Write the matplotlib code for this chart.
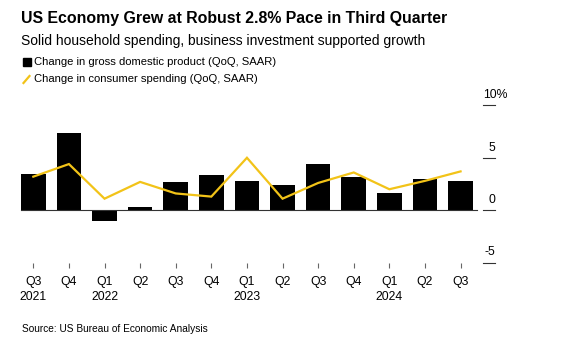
import numpy as np
import matplotlib.pyplot as plt
from matplotlib.lines import Line2D

plt.rcParams['font.family'] = ['Liberation Sans', 'DejaVu Sans']

# Data
quarters = ["Q3\n2021", "Q4", "Q1\n2022", "Q2", "Q3", "Q4", "Q1\n2023",
            "Q2", "Q3", "Q4", "Q1\n2024", "Q2", "Q3"]
gdp = [3.5, 7.4, -1.0, 0.3, 2.7, 3.4, 2.8, 2.4, 4.4, 3.2, 1.6, 3.0, 2.8]
consumer = [3.2, 4.4, 1.1, 2.7, 1.6, 1.3, 5.0, 1.1, 2.6, 3.6, 2.0, 2.8, 3.7]
yticks = [-5, 0, 5, 10]
ytick_labels = ["-5", "0", "5", "10%"]

W, H = 583, 350
YELLOW = "#F2C318"


def fx(p):
    return p / W


def fy(p):
    return 1 - p / H


fig = plt.figure(figsize=(W / 100, H / 100), dpi=100)
ax = fig.add_axes([fx(20), fy(262.7), fx(483 - 20), (262.7 - 105.3) / H])

x = np.arange(len(quarters))
ax.bar(x, gdp, width=0.69, color="black", zorder=2)
ax.plot(x, consumer, color=YELLOW, lw=1.6, zorder=3, solid_joinstyle="miter")
ax.plot([-0.35, 12.45], [0, 0], color="#333333", lw=0.8, zorder=4)

ax.set_xlim(-0.374, 12.63)
ax.set_ylim(-5, 10)
for s in ax.spines.values():
    s.set_visible(False)
ax.set_xticks(x)
ax.set_xticklabels(quarters, fontsize=8.8, linespacing=1.4)
ax.tick_params(axis="x", length=3.5, width=0.8, color="#666666", pad=6)
ax.set_yticks([])

# right-hand value axis: short tick lines with labels above them
for v, lab in zip(yticks, ytick_labels):
    ax.add_line(Line2D([1.0, 1.0 + 12 / 463], [v, v], transform=ax.get_yaxis_transform(),
                       color="#333333", lw=0.8, clip_on=False))
    if lab.endswith("%"):
        fig.text(fx(483), fy(105.3 - 10.5), lab, fontsize=8.8, ha="left", va="center")
    else:
        ypx = 210.7 - v * 10.45
        fig.text(fx(495.5), fy(ypx - 10.5), lab, fontsize=8.8, ha="right", va="center")

fig.text(fx(21), fy(18), "US Economy Grew at Robust 2.8% Pace in Third Quarter",
         fontsize=11.4, fontweight="bold", va="center")
fig.text(fx(21), fy(41.5), "Solid household spending, business investment supported growth",
         fontsize=10, va="center")

# legend
fig.patches.append(plt.Rectangle((fx(22.5), fy(66)), fx(8), 8 / H,
                                 transform=fig.transFigure, color="black"))
fig.text(fx(34.3), fy(62.3), "Change in gross domestic product (QoQ, SAAR)",
         fontsize=8.15, va="center")
fig.add_artist(Line2D([fx(23.5), fx(29.5)], [fy(83), fy(76)], color=YELLOW, lw=1.6))
fig.text(fx(34.3), fy(79.3), "Change in consumer spending (QoQ, SAAR)",
         fontsize=8.15, va="center")

fig.text(fx(21.5), fy(329.3), "Source: US Bureau of Economic Analysis",
         fontsize=7.3, va="center")

fig.savefig("out.png", dpi=100)
